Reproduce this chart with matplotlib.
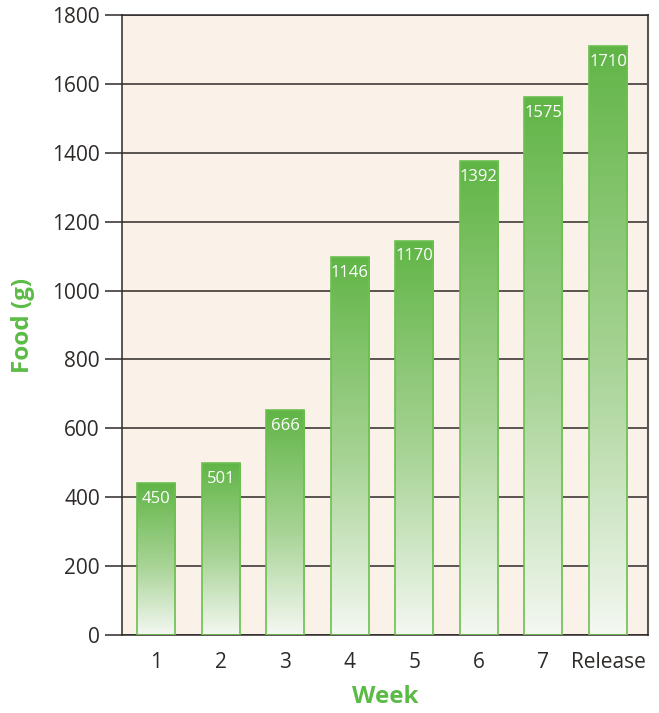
import numpy as np
import matplotlib
matplotlib.use("Agg")
import matplotlib.pyplot as plt
from matplotlib.colors import LinearSegmentedColormap

plt.rcParams['font.family'] = ['Open Sans', 'DejaVu Sans']

categories = ["1", "2", "3", "4", "5", "6", "7", "Release"]
bar_heights = [440, 499, 653, 1098, 1145, 1376, 1561, 1709]
value_labels = ["450", "501", "666", "1146", "1170", "1392", "1575", "1710"]
y_ticks = [0, 200, 400, 600, 800, 1000, 1200, 1400, 1600, 1800]

edge_green = "#6cc04f"
bg = "#faf2e8"
text_green = "#5cbb46"

fig = plt.figure(figsize=(6.59, 7.13), dpi=100)
ax = fig.add_axes([122/659, 1 - 635/713, 526/659, 620/713])
ax.set_facecolor(bg)

x = np.arange(len(categories))
width = 0.59

cmap = LinearSegmentedColormap.from_list(
    "g", [(0.0, "#f4f8f2"), (0.45, "#a9d497"), (0.8, "#7cc164"), (1.0, "#60b546")])
grad = np.linspace(0, 1, 256).reshape(-1, 1)

bars = ax.bar(x, bar_heights, width=width, color="none", edgecolor=edge_green,
              linewidth=1.2, zorder=3)
for b, h, lab in zip(bars, bar_heights, value_labels):
    x0 = b.get_x()
    im = ax.imshow(grad, cmap=cmap, origin="lower", aspect="auto",
                   extent=(x0, x0 + b.get_width(), 0, h), zorder=2,
                   interpolation="bilinear")
    im.set_clip_path(b)
    ax.text(b.get_x() + b.get_width() / 2, h - 46, lab, ha="center", va="center",
            color="white", fontsize=12, zorder=4)

ax.set_xlim(-0.53, 7.62)
ax.set_ylim(0, 1800)
ax.set_yticks(y_ticks)
ax.set_yticklabels([str(v) for v in y_ticks])
ax.set_xticks(x)
ax.set_xticklabels(categories)

ax.yaxis.grid(True, color="#2e2a28", linewidth=1.1, zorder=1)
ax.set_axisbelow(True)

ax.tick_params(axis="y", length=12, width=1.1, color="#2e2a28", labelsize=15,
               labelcolor="#2e2a28", pad=4)
ax.tick_params(axis="x", length=0, labelsize=15, labelcolor="#2e2a28", pad=12)

for side in ["left", "top", "bottom"]:
    ax.spines[side].set_color("#2e2a28")
    ax.spines[side].set_linewidth(1.1)
ax.spines["right"].set_color("#555555")
ax.spines["right"].set_linewidth(1.5)

ax.set_ylabel("Food (g)", color=text_green, fontsize=17.5, fontweight="bold", labelpad=12)
ax.set_xlabel("Week", color=text_green, fontsize=17.5, fontweight="bold", labelpad=9)

fig.savefig("out.png", dpi=100)
